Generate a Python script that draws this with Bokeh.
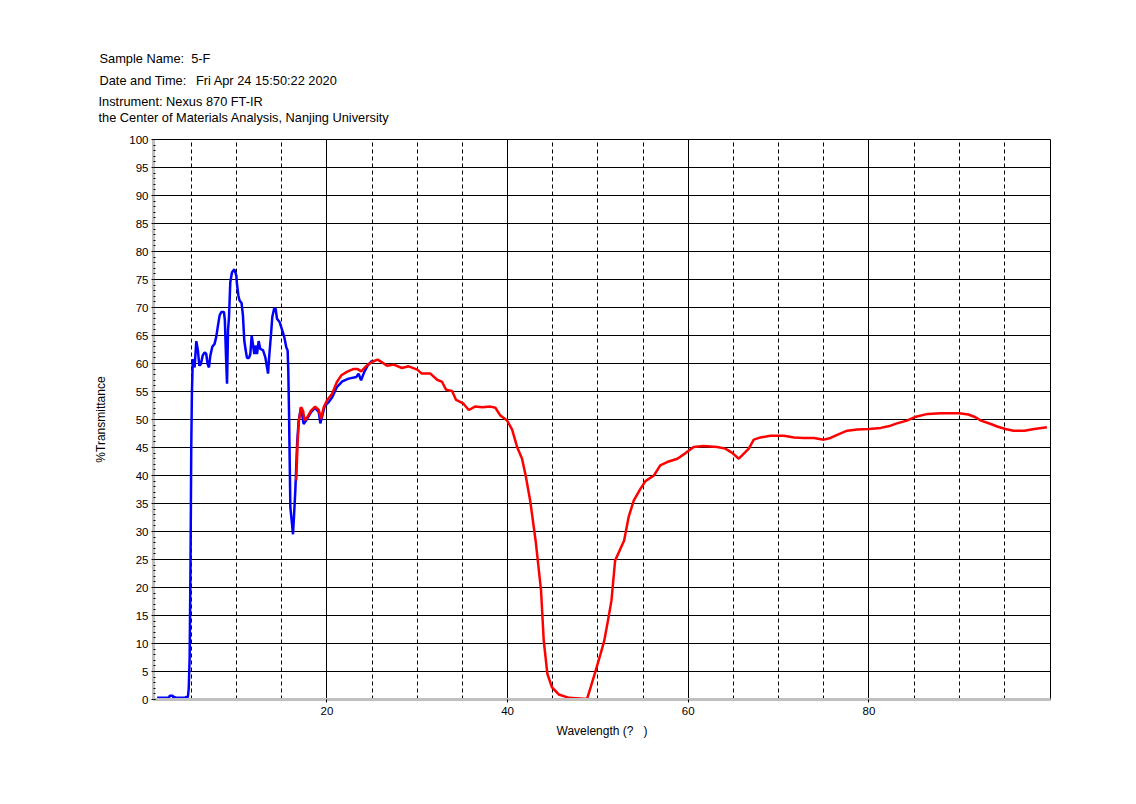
from bokeh.plotting import figure
from bokeh.models import FixedTicker, Grid, Range1d, Title
from bokeh.embed import file_html
from bokeh.resources import INLINE

# ---- data ----
blue_x = [1.2, 2.5, 2.6, 2.95, 3.0, 3.2, 3.25, 4.3, 4.45, 4.55, 4.62, 4.7, 4.8, 4.9, 4.98, 5.05,
          5.15, 5.35, 5.54, 5.72, 5.87, 6.05, 6.24, 6.46, 6.64, 6.79, 6.94, 7.09, 7.31, 7.56, 7.75,
          7.94, 8.12, 8.31, 8.6, 8.7, 8.83, 8.94, 9.05, 9.16, 9.3, 9.49, 9.75, 9.97, 10.04, 10.2,
          10.33, 10.55, 10.7, 10.85, 11.0, 11.15, 11.37, 11.52, 11.67, 11.8, 11.96, 12.1, 12.26,
          12.44, 12.62, 12.92, 13.18, 13.37, 13.48, 13.6, 13.8, 13.95, 14.17, 14.32, 14.47, 14.76,
          15.0, 15.28, 15.5, 15.65, 15.72, 15.8, 15.84, 15.95, 16.13, 16.24, 16.35, 16.5, 16.7,
          16.87, 17.13, 17.42, 17.8, 18.24, 18.7, 19.1, 19.27, 19.45, 19.75, 20.2, 20.6, 21.1,
          21.7, 22.4, 23.26, 23.5, 23.78, 24.14, 24.5, 25.0]
blue_y = [0.3, 0.3, 0.65, 0.65, 0.3, 0.45, 0.3, 0.3, 0.5, 0.3, 0.6, 2.0, 7.3, 24.8, 45.0, 54.6,
          60.8, 59.3, 64.0, 62.3, 59.6, 59.9, 61.4, 62.0, 61.7, 59.9, 59.3, 61.4, 63.0, 63.5, 64.8,
          66.8, 68.6, 69.2, 69.2, 67.7, 61.1, 56.4, 65.9, 68.3, 74.5, 76.3, 76.8, 75.7, 74.2, 72.1,
          71.25, 70.8, 68.6, 64.1, 62.4, 61.0, 61.0, 61.7, 65.0, 63.5, 61.7, 63.2, 61.7,
          64.0, 62.6, 62.4, 61.1, 59.3, 58.2, 61.1, 65.0, 68.3, 69.9, 69.8, 68.0, 67.4,
          66.2, 64.7, 62.9, 62.3, 58.75, 51.6, 46.8, 34.3, 31.4, 29.5, 32.6, 37.3, 45.7,
          49.8, 52.2, 49.2, 50.1, 51.3, 52.1, 51.3, 49.3, 50.4, 52.4, 53.1, 54.0, 55.8,
          56.8, 57.3, 57.6, 58.2, 57.0, 58.5, 59.6, 60.5]

red_x = [16.6, 16.76, 16.9, 17.13, 17.35, 17.53, 17.86, 18.24, 18.7, 19.1, 19.35, 19.64, 20.0,
         20.57, 21.1, 21.6, 22.2, 22.9, 23.4, 23.8, 24.14, 24.6, 25.17, 25.6, 26.1, 26.66, 27.4,
         28.3, 29.05, 30.0, 30.5, 31.45, 32.2, 32.75, 33.2, 33.85, 34.3, 35.07, 35.7, 36.4, 37.2,
         38.1, 38.65, 39.2, 39.95, 40.5, 41.05, 41.6, 42.0, 42.5, 43.1, 43.7, 44.0, 44.4, 44.9,
         45.66, 46.8, 48.8, 49.2, 49.7, 50.3, 50.7, 51.1, 51.5, 51.9, 52.9, 53.4, 53.96, 54.7,
         55.26, 56.2, 56.9, 57.66, 58.8, 59.7, 60.6, 61.7, 63.2, 64.1, 64.86, 65.6, 66.15, 66.7,
         67.25, 68.0, 69.1, 70.6, 71.7, 72.8, 73.9, 75.0, 75.75, 76.67, 77.6, 78.7, 80.0, 81.3,
         82.4, 83.1, 84.2, 85.2, 86.5, 88.0, 90.0, 91.0, 91.8, 92.4, 93.5, 94.2, 95.1, 96.0,
         97.2, 98.3, 99.7]
red_y = [39.1, 46.25, 49.8, 52.2, 51.6, 49.8, 50.5, 51.6, 52.3, 51.7, 50.1, 52.2, 53.4,
         54.6, 56.7, 57.9, 58.5, 59.0, 59.0, 58.6, 59.2, 59.9, 60.4, 60.7, 60.2, 59.6, 59.8,
         59.2, 59.5, 58.9, 58.2, 58.2, 57.1, 56.7, 55.3, 55.1, 53.5, 52.9, 51.7, 52.3, 52.2,
         52.3, 52.1, 50.7, 49.8, 48.2, 45.1, 43.0, 40.0, 35.5, 28.4, 19.5, 10.5, 4.6, 2.2,
         0.9, 0.3, 0.1, 2.2, 4.9, 8.2, 10.5, 14.0, 17.7, 24.8, 28.4, 32.6, 35.5, 37.6,
         39.0, 40.0, 41.8, 42.4, 43.0, 44.0, 45.1, 45.25, 45.1, 44.8, 44.05, 43.0, 43.9, 44.8,
         46.4, 46.8, 47.1, 47.1, 46.8, 46.7, 46.7, 46.4, 46.7, 47.4, 48.0, 48.2, 48.3, 48.5,
         48.9, 49.3, 49.8, 50.5, 51.0, 51.1, 51.1, 50.9, 50.4, 49.8, 49.2, 48.75, 48.3, 48.0,
         48.0, 48.3, 48.6]

y_ticks = list(range(0, 101, 5))
y_minor = list(range(0, 101, 1))
x_major = [20, 40, 60, 80]
x_dashed = [v for v in range(5, 100, 5) if v not in x_major]
y_grid = list(range(5, 100, 5))

header_lower = "Instrument: Nexus 870 FT-IR\nthe Center of Materials Analysis, Nanjing University"
header_upper = "Sample Name:\u00a0\u00a05-F\nDate and Time:\u00a0\u00a0\u2009Fri Apr 24 15:50:22 2020"

FONT = "Liberation Sans"

p = figure(width=1128, height=796, output_backend="svg", toolbar_location=None,
           x_range=Range1d(0.8, 100.1), y_range=Range1d(0, 100),
           min_border_left=153, min_border_right=78, min_border_top=139,
           min_border_bottom=97)
p.title.visible = False
p.background_fill_color = "white"
p.border_fill_color = "white"
p.outline_line_color = "black"
p.outline_line_width = 1
p.grid.visible = False

# grids
p.add_layout(Grid(dimension=1, ticker=FixedTicker(ticks=y_grid),
                  grid_line_color="black", grid_line_width=1))
p.add_layout(Grid(dimension=0, ticker=FixedTicker(ticks=x_dashed),
                  grid_line_color="black", grid_line_width=1, grid_line_dash="4 3"))
p.add_layout(Grid(dimension=0, ticker=FixedTicker(ticks=x_major),
                  grid_line_color="black", grid_line_width=1))

# curves
p.line(blue_x, blue_y, line_color="#0000ff", line_width=2.5)
p.line(red_x, red_y, line_color="#ff0000", line_width=2.5)

# x axis
xa = p.xaxis[0]
xa.ticker = FixedTicker(ticks=x_major)
xa.axis_line_color = "#c0c0c0"
xa.axis_line_width = 3
xa.major_tick_line_color = "black"
xa.major_tick_out = 3
xa.major_tick_in = 0
xa.minor_tick_line_color = None
xa.major_label_standoff = 4
xa.major_label_text_align = "right"
xa.major_label_text_font = FONT
xa.major_label_text_font_size = "11.5px"
xa.major_label_text_color = "black"
xa.axis_label = "Wavelength (?\u00a0\u00a0\u00a0)"
xa.axis_label_text_font = FONT
xa.axis_label_text_font_size = "12px"
xa.axis_label_text_font_style = "normal"
xa.axis_label_text_color = "black"
xa.axis_label_standoff = 6

# y axis
ya = p.yaxis[0]
ya.ticker = FixedTicker(ticks=y_ticks, minor_ticks=y_minor)
ya.axis_line_color = "#c0c0c0"
ya.axis_line_width = 3
ya.major_tick_line_color = "black"
ya.major_tick_out = 2
ya.major_tick_in = 0
ya.minor_tick_line_color = "black"
ya.minor_tick_in = 2
ya.minor_tick_out = 0
ya.major_label_standoff = 3
ya.major_label_text_font = FONT
ya.major_label_text_font_size = "11.5px"
ya.major_label_text_color = "black"
ya.axis_label = "%Transmittance"
ya.axis_label_text_font = FONT
ya.axis_label_text_font_size = "12px"
ya.axis_label_text_font_style = "normal"
ya.axis_label_text_color = "black"
ya.axis_label_standoff = 18

# header (two stacked title blocks; first added sits nearest the frame)
p.add_layout(Title(text=header_lower, align="left", offset=-55, standoff=29,
                   text_font=FONT, text_font_size="12.8px", text_line_height=1.07,
                   text_font_style="normal", text_color="black"), "above")
p.add_layout(Title(text=header_upper, align="left", offset=-54, standoff=-21,
                   text_font=FONT, text_font_size="12.8px", text_line_height=1.5,
                   text_font_style="normal", text_color="black"), "above")

open("out.html", "w").write(file_html(p, INLINE))
